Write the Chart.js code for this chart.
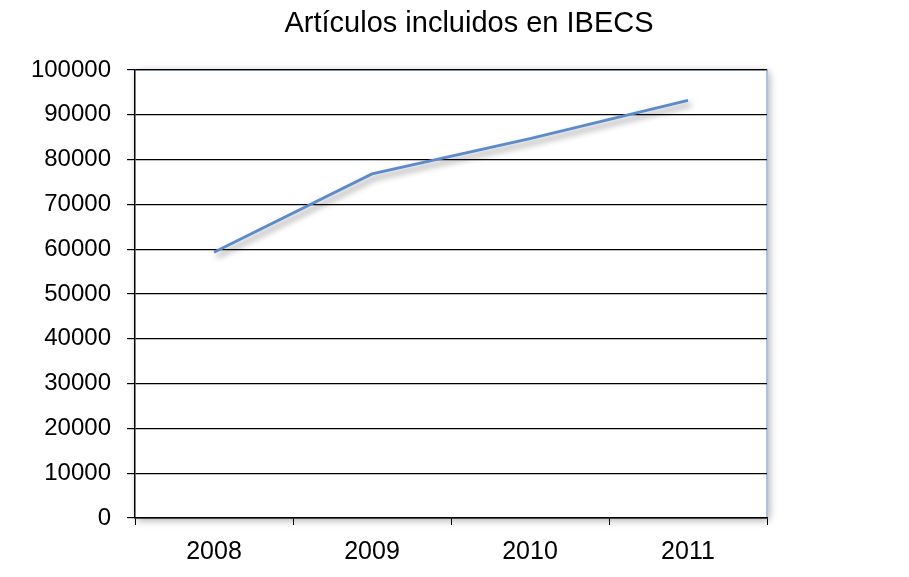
<!DOCTYPE html>
<html>
<head>
<meta charset="utf-8">
<script src="https://cdn.jsdelivr.net/npm/chart.js@4"></script>
<style>
  html, body { margin: 0; padding: 0; background: #fff; }
  #wrap { width: 909px; height: 577px; }
</style>
</head>
<body>
<div id="wrap"><canvas id="ibecsChart" width="909" height="577"></canvas></div>
<script>
const years = ["2008", "2009", "2010", "2011"];
const articles = [59300, 76800, 84700, 93200];
const chartTitle = "Artículos incluidos en IBECS";

document.addEventListener('DOMContentLoaded', function () {
    const ctx = document.getElementById('ibecsChart').getContext('2d');
    const fontFamily = '"Liberation Sans", Arial, sans-serif';

    // plot frame with soft shadow, blue border top/right, plus the title
    const framePlugin = {
        id: 'frame',
        beforeDraw(chart) {
            const a = chart.chartArea, c = chart.ctx;
            c.save();
            c.shadowColor = 'rgba(0,0,0,0.35)';
            c.shadowBlur = 8;
            c.shadowOffsetX = 2;
            c.shadowOffsetY = 2;
            c.fillStyle = '#ffffff';
            c.fillRect(a.left, a.top, a.right - a.left, a.bottom - a.top);
            c.restore();
            c.save();
            c.strokeStyle = '#a9c1e6';
            c.lineWidth = 2;
            c.beginPath();
            c.moveTo(a.left, a.top);
            c.lineTo(a.right, a.top);
            c.lineTo(a.right, a.bottom);
            c.stroke();
            c.restore();
        },
        afterDraw(chart) {
            const c = chart.ctx;
            c.save();
            c.fillStyle = '#000';
            c.font = '29px ' + fontFamily;
            c.textAlign = 'center';
            c.textBaseline = 'alphabetic';
            c.fillText(chartTitle, 469, 32);
            c.restore();
        }
    };

    const shadowPlugin = {
        id: 'lineShadow',
        beforeDatasetDraw(chart) {
            const c = chart.ctx;
            c.save();
            c.shadowColor = 'rgba(0,0,0,0.45)';
            c.shadowBlur = 6;
            c.shadowOffsetX = 3;
            c.shadowOffsetY = 4;
        },
        afterDatasetDraw(chart) {
            chart.ctx.restore();
        }
    };

    const data = {
        labels: years,
        datasets: [{
            label: 'Artículos',
            data: articles,
            borderColor: '#5b8bcb',
            borderWidth: 2.8,
            pointRadius: 0,
            tension: 0,
            fill: false
        }]
    };

    const config = {
        type: 'line',
        data: data,
        options: {
            responsive: false,
            animation: false,
            layout: { padding: { left: 0, right: 142, top: 70, bottom: 0 } },
            plugins: {
                legend: { display: false },
                title: { display: false },
                tooltip: { enabled: false }
            },
            scales: {
                x: {
                    offset: true,
                    border: { color: '#000', width: 1.5 },
                    grid: { display: true, drawOnChartArea: false, offset: true, tickLength: 7, color: '#000' },
                    ticks: { color: '#000', font: { size: 25, family: fontFamily }, padding: 12 },
                    afterFit(scale) { scale.height = 59; }
                },
                y: {
                    min: 0,
                    max: 100000,
                    border: { color: '#000', width: 1.5 },
                    grid: { color: '#000', lineWidth: 1.2, tickLength: 8, drawTicks: true },
                    ticks: {
                        stepSize: 10000,
                        color: '#000',
                        font: { size: 24, family: fontFamily },
                        padding: 16,
                        callback: function (value) { return String(value); }
                    },
                    afterFit(scale) { scale.width = 135; }
                }
            }
        },
        plugins: [framePlugin, shadowPlugin]
    };

    const ibecsChart = new Chart(ctx, config);
});
</script>
</body>
</html>
